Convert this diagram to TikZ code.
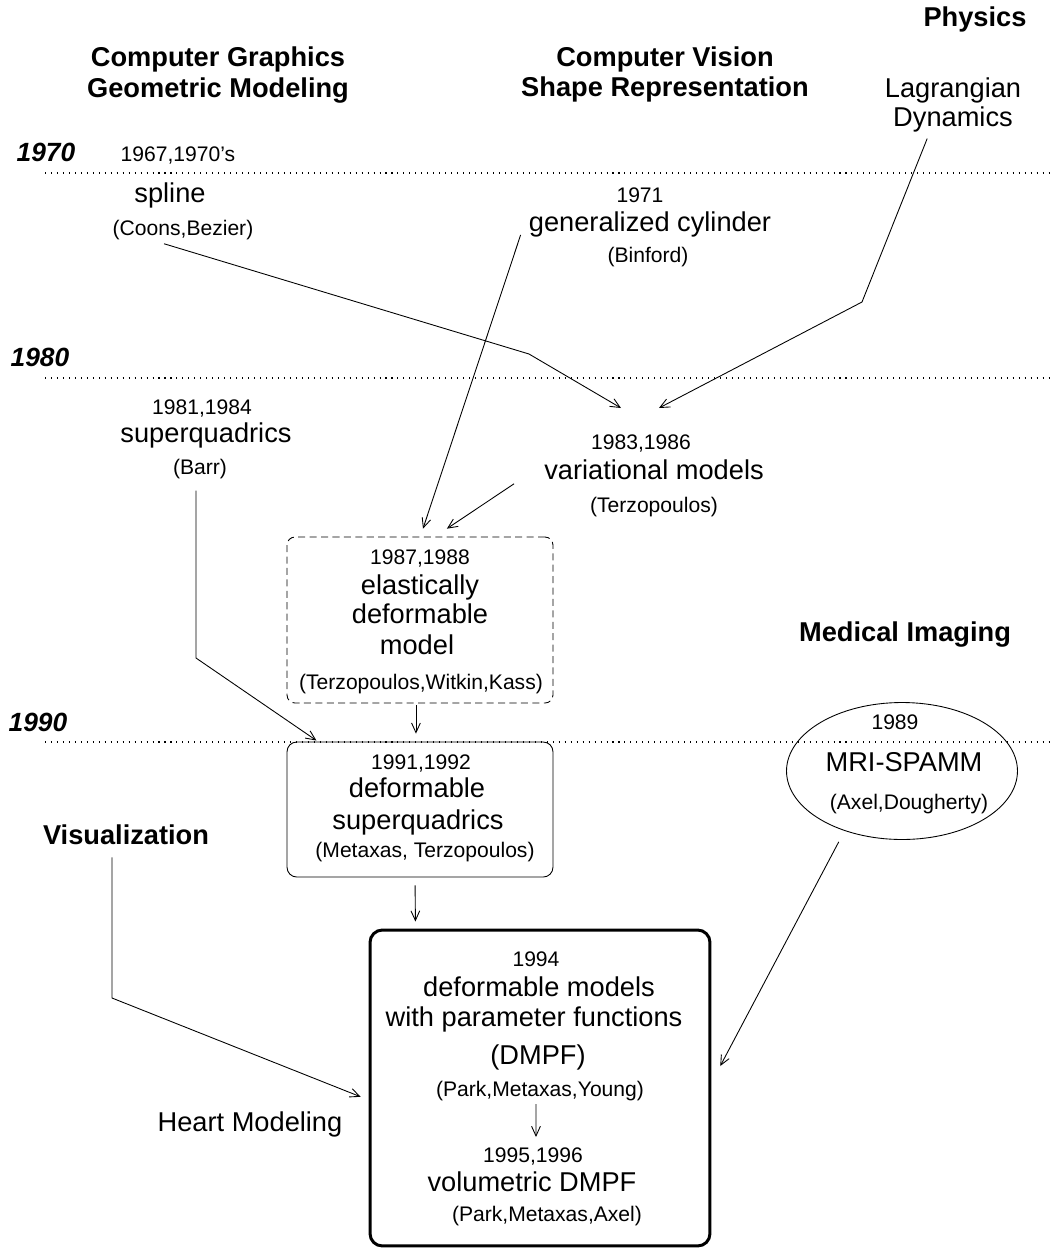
\documentclass[tikz,border=0pt]{standalone}
\usepackage{fontspec}
\setmainfont{Liberation Sans}
\usetikzlibrary{arrows.meta, shapes.geometric}

\tikzset{
  txt/.style={inner sep=0pt, text height=0.75em, text depth=0.2em},
  big/.style={txt, font=\fontsize{15.5}{18}\selectfont},
  small/.style={txt, font=\fontsize{12}{14}\selectfont},
  head/.style={txt, font=\fontsize{15.5}{18}\selectfont\bfseries},
  decade/.style={txt, font=\fontsize{15}{18}\selectfont\bfseries\itshape},
  timeline/.style={line width=0.6pt, dash pattern=on 0.6pt off 2.8pt},
  flow/.style={line width=0.5pt, -{Straight Barb[length=5.5pt,width=5pt]}},
}

\begin{document}
\begin{tikzpicture}[x=0.02cm, y=-0.02cm]
        \useasboundingbox (0,0) rectangle (1052,1249);

        % time scale
        \node[decade] (d70) at (46,157) {1970};
        \node[decade] (d80) at (40,362) {1980};
        \node[decade] (d90) at (38,727) {1990};
        \draw[timeline] (45,173) -- (1052,173);
        \draw[timeline] (45,378) -- (1052,378);
        \draw[timeline] (45,742) -- (1052,742);

        % fields
        \node[head] (cg1) at (218,62) {Computer Graphics};
        \node[head] (cg2) at (218,93) {Geometric Modeling};
        \node[head] (cv1) at (665,62) {Computer Vision};
        \node[head] (cv2) at (665,92) {Shape Representation};
        \node[head] (phys) at (975,22) {Physics};
        \node[big] (lag1) at (953,93) {Lagrangian};
        \node[big] (lag2) at (953,122) {Dynamics};
        \node[head] (medimg) at (905,637) {Medical Imaging};
        \node[head] (vis) at (126,840) {Visualization};
        \node[big] (heart) at (250,1127) {Heart Modeling};

        % models
        \node[small] (splyear) at (178,157) {1967,1970's};
        \node[big] (spline) at (170,198) {spline};
        \node[small] (coons) at (183,231) {(Coons,Bezier)};

        \node[small] (cylyear) at (640,198) {1971};
        \node[big] (cyl) at (650,227) {generalized cylinder};
        \node[small] (binford) at (648,258) {(Binford)};

        \node[small] (sqyear) at (202,410) {1981,1984};
        \node[big] (sq) at (206,438) {superquadrics};
        \node[small] (barr) at (200,470) {(Barr)};

        \node[small] (varyear) at (641,445) {1983,1986};
        \node[big] (var) at (654,475) {variational models};
        \node[small] (terzo) at (654,508) {(Terzopoulos)};

        \node[draw, line width=0.5pt, dash pattern=on 4pt off 2.5pt, rounded corners=4.5pt,
              minimum width=5.32cm, minimum height=3.32cm] (elastic) at (420,620) {};
        \node[small] (elyear) at (420,560) {1987,1988};
        \node[big] (el1) at (420,590) {elastically};
        \node[big] (el2) at (420,619) {deformable};
        \node[big] (el3) at (417,650) {model};
        \node[small] (elname) at (421,685) {(Terzopoulos,Witkin,Kass)};

        \node[draw, line width=0.5pt, rounded corners=5.5pt,
              minimum width=5.32cm, minimum height=2.7cm] (dsq) at (420,809.5) {};
        \node[small] (dsqyear) at (421,765) {1991,1992};
        \node[big] (dsq1) at (417,793) {deformable};
        \node[big] (dsq2) at (418,825) {superquadrics};
        \node[small] (dsqname) at (425,853) {(Metaxas, Terzopoulos)};

        \node[draw, ellipse, line width=0.5pt, inner sep=0pt,
              minimum width=4.62cm, minimum height=2.74cm] (mri) at (902,771) {};
        \node[small] (mriyear) at (895,725) {1989};
        \node[big] (mri1) at (904,767) {MRI-SPAMM};
        \node[small] (mriname) at (909,805) {(Axel,Dougherty)};

        \node[draw, line width=1.7pt, rounded corners=7pt,
              minimum width=6.8cm, minimum height=6.32cm] (dmpf) at (540,1088) {};
        \node[small] (dmpfyear) at (536,962) {1994};
        \node[big] (dmpf1) at (539,992) {deformable models};
        \node[big] (dmpf2) at (534,1022) {with parameter functions};
        \node[big] (dmpf3) at (538,1060) {(DMPF)};
        \node[small] (dmpfname) at (540,1092) {(Park,Metaxas,Young)};
        \node[small] (volyear) at (533,1158) {1995,1996};
        \node[big] (vol) at (532,1187) {volumetric DMPF};
        \node[small] (volname) at (547,1217) {(Park,Metaxas,Axel)};

        % bends and free ends
        \coordinate (splinebend) at (529,354);
        \coordinate (splinetip) at (621,408);
        \coordinate (lagbend) at (862,302);
        \coordinate (lagtip) at (659,408);
        \coordinate (barrbend) at (196,658);
        \coordinate (visbend) at (112,998);

        \draw[flow] ([xshift=-10.8pt,yshift=-2.3pt]coons.south) -- (splinebend) -- (splinetip);
        \draw[flow] ([xshift=-14.7pt,yshift=-4.5pt]lag2.south) -- (lagbend) -- (lagtip);
        \draw[flow] ([xshift=-4.5pt,yshift=-4.5pt]cyl.west) -- ([xshift=1.7pt,yshift=4.5pt]elastic.north);
        \draw[flow] ([xshift=-17pt,yshift=-5pt]var.west) -- ([xshift=15.3pt,yshift=4.5pt]elastic.north);
        \draw[flow] ([xshift=-2.3pt,yshift=-6.8pt]barr.south) -- (barrbend)
            -- ([xshift=17pt,yshift=0.6pt]dsq.north west);
        \draw[flow] ([xshift=-2.3pt,yshift=-1pt]elastic.south) -- ([xshift=-2.3pt,yshift=4.5pt]dsq.north);
        \draw[flow] ([xshift=-2.8pt,yshift=-4.5pt]dsq.south) -- ([xshift=-70.9pt,yshift=4pt]dmpf.north);
        \draw[flow] ([xshift=-8pt,yshift=-5pt]vis.south) -- (visbend)
            -- ([xshift=-4.5pt,yshift=-5pt]dmpf.west);
        \draw[flow] ([xshift=-36pt,yshift=-1.1pt]mri.south) -- ([xshift=5pt,yshift=12.5pt]dmpf.east);
        \draw[flow] ([xshift=-2.3pt,yshift=-2pt]dmpfname.south) -- ([xshift=1.7pt,yshift=7pt]volyear.north);
\end{tikzpicture}
\end{document}
